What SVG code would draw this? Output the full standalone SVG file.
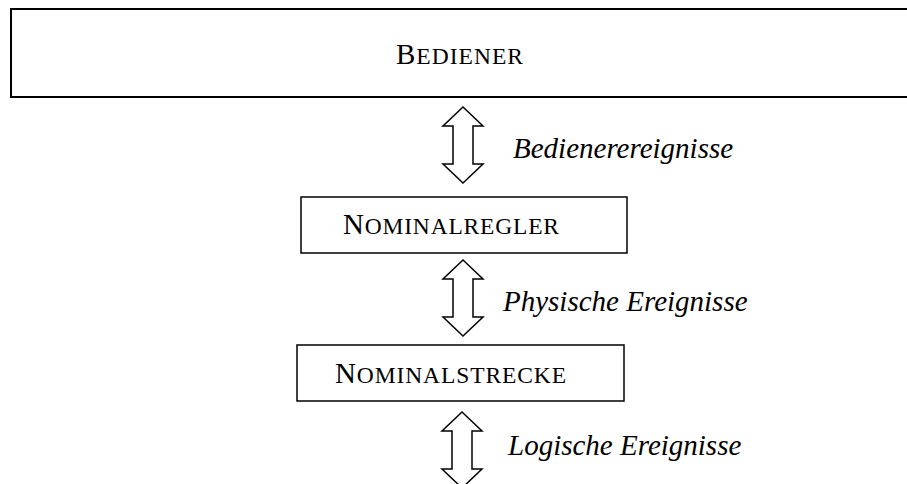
<svg xmlns="http://www.w3.org/2000/svg" width="907" height="484" viewBox="0 0 907 484">
  <style>
    .box { fill: #ffffff; stroke: #000000; stroke-width: 1.5; }
    .top { stroke-width: 2; }
    .cap { font-family: "Liberation Serif", "Times New Roman", serif; fill: #000000; font-size: 29px; }
    .sc { font-size: 23.5px; }
    .lbl { font-family: "Liberation Serif", "Times New Roman", serif; font-style: italic; font-size: 29px; fill: #000000; }
    .arrow { fill: #ffffff; stroke: #000000; stroke-width: 1.5; stroke-linejoin: miter; }
  </style>
  <defs>
    <!-- double-headed block arrow, 40 wide, shaft 20 wide; origin at top tip -->
    <path id="dblArrow" d="M0,0 L20,19 L10,19 L10,57 L20,57 L0,76 L-20,57 L-10,57 L-10,19 L-20,19 Z"/>
  </defs>

  <g id="bediener">
    <rect class="box top" x="11" y="9" width="910" height="88"/>
    <text class="cap" x="396" y="64" textLength="127" lengthAdjust="spacing">B<tspan class="sc">EDIENER</tspan></text>
  </g>

  <g id="nominalregler">
    <rect class="box" x="301" y="197" width="326" height="56"/>
    <text class="cap" x="343" y="234" textLength="216" lengthAdjust="spacing">N<tspan class="sc">OMINALREGLER</tspan></text>
  </g>

  <g id="nominalstrecke">
    <rect class="box" x="297" y="345" width="327" height="56"/>
    <text class="cap" x="335" y="383" textLength="231" lengthAdjust="spacing">N<tspan class="sc">OMINALSTRECKE</tspan></text>
  </g>

  <g id="connectors">
    <use href="#dblArrow" class="arrow" x="463" y="107"/>
    <use href="#dblArrow" class="arrow" x="463" y="260"/>
    <use href="#dblArrow" class="arrow" x="462" y="412"/>
    <text class="lbl" x="513" y="158">Bedienerereignisse</text>
    <text class="lbl" x="503" y="311">Physische Ereignisse</text>
    <text class="lbl" x="508" y="455">Logische Ereignisse</text>
  </g>
</svg>
